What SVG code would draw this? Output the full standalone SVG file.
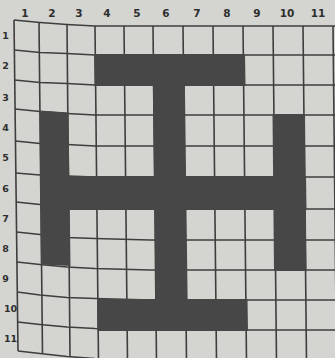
<svg xmlns="http://www.w3.org/2000/svg" width="335" height="358" viewBox="0 0 335 358">
<style>
.bg{fill:#d4d4d0}
.gl{fill:none;stroke:#3e3e3e;stroke-width:1.6;stroke-linejoin:round}
.fill{fill:#474747}
.lbl{font-family:"DejaVu Sans","Liberation Sans",sans-serif;font-weight:bold;fill:#2e2e2e;text-anchor:middle}
.col{font-size:10.5px}
.row{font-size:9.5px}
</style>
<rect class="bg" x="0" y="0" width="335" height="358"/>
<g id="grid">
<path class="gl" d="M14,20 L40,22.5 L67,24.5 L95,26 L335,26"/>
<path class="gl" d="M14.4,50 L40,52.5 L67,53.5 L95,55 L335,55"/>
<path class="gl" d="M14.7,80 L40,82.5 L67,83.5 L95,85 L335,85"/>
<path class="gl" d="M15.1,109 L40,111.5 L67,113.5 L95,115 L335,115"/>
<path class="gl" d="M15.5,141 L40,143.5 L67,144.5 L95,146 L335,146"/>
<path class="gl" d="M15.8,173 L40,175 L67,176 L95,177 L335,177"/>
<path class="gl" d="M16.2,202 L40,204.5 L67,207 L95,208 L150,209 L335,209"/>
<path class="gl" d="M16.5,232 L40,234.5 L67,237.5 L95,238.5 L150,240 L335,240"/>
<path class="gl" d="M16.9,262 L40,264.5 L67,267 L95,268.5 L150,270 L335,270"/>
<path class="gl" d="M17.2,292 L40,295 L67,297.5 L95,298.5 L150,300 L335,300"/>
<path class="gl" d="M17.6,322 L40,324.5 L67,327 L95,328.5 L150,330 L335,330"/>
<path class="gl" d="M18,351 L40,353.5 L67,356.5 L95,358.5 L150,360 L335,360"/>
<path class="gl" d="M14,20 L18,351"/>
<path class="gl" d="M39,22.5 L42.5,353.5"/>
<path class="gl" d="M67,24.5 L70,357"/>
<path class="gl" d="M95,26 L98.5,360"/>
<path class="gl" d="M124,26 L127.5,360"/>
<path class="gl" d="M153,26 L156.5,360"/>
<path class="gl" d="M183,26 L186.5,360"/>
<path class="gl" d="M213,26 L216.5,360"/>
<path class="gl" d="M243,26 L246.5,360"/>
<path class="gl" d="M273,26 L276.5,360"/>
<path class="gl" d="M303,26 L306.5,360"/>
<path class="gl" d="M333,26 L336.5,360"/>
</g>
<g id="shape">
<polygon class="fill" points="94,54 245,54 245.5,86 94.5,86"/>
<polygon class="fill" points="152.5,54 184.5,54 188,331 156,331"/>
<polygon class="fill" points="40,176 306,176 306.5,210 40.5,210"/>
<polygon class="fill" points="39.5,110.5 68.5,112.5 70.5,266 41,264.5"/>
<polygon class="fill" points="272.5,114 305,114 306.5,271 274,271"/>
<polygon class="fill" points="97,299 247.5,299 248,331 97.5,331"/>
</g>
<g id="column-labels" class="lbl col">
<text x="25" y="17">1</text>
<text x="52" y="17">2</text>
<text x="79" y="17">3</text>
<text x="107" y="17">4</text>
<text x="137" y="17">5</text>
<text x="166" y="17">6</text>
<text x="197" y="17">7</text>
<text x="227" y="17">8</text>
<text x="257" y="17">9</text>
<text x="287" y="17">10</text>
<text x="318" y="17">11</text>
</g>
<g id="row-labels" class="lbl row">
<text x="5.5" y="38.5">1</text>
<text x="5.5" y="68.5">2</text>
<text x="5.5" y="100.5">3</text>
<text x="5.5" y="130.5">4</text>
<text x="5.5" y="160.5">5</text>
<text x="5.5" y="191.5">6</text>
<text x="5.5" y="221.5">7</text>
<text x="5.5" y="251.5">8</text>
<text x="5.5" y="281.5">9</text>
<text x="10.5" y="311.5">10</text>
<text x="10.5" y="341.5">11</text>
</g>
</svg>
